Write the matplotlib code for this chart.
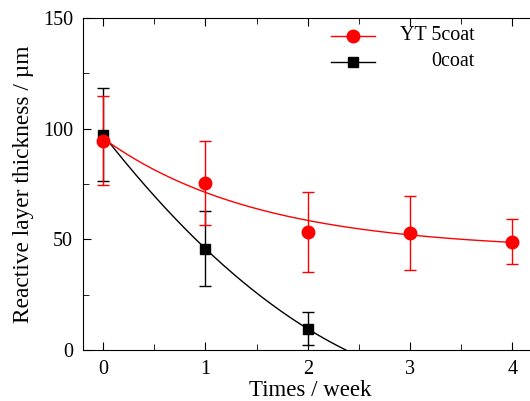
import matplotlib
matplotlib.use('Agg')
import matplotlib.pyplot as plt
from matplotlib.ticker import MultipleLocator
import numpy as np

plt.rcParams['font.family'] = ['Liberation Serif', 'DejaVu Serif']

# measured data
weeks_yt = np.array([0, 1, 2, 3, 4])
thick_yt = np.array([94.6, 75.6, 53.3, 52.9, 49.0])
err_yt = np.array([20.0, 19.0, 18.2, 16.9, 10.3])

weeks_0 = np.array([0, 1, 2])
thick_0 = np.array([97.3, 45.8, 9.6])
err_0 = np.array([21.0, 17.0, 7.4])

labels = ['YT 5coat', '0coat']
xticks = [0, 1, 2, 3, 4]
yticks = [0, 50, 100, 150]


def expdec_fit(x, y, w):
    # y = y0 + A*exp(-x/t), weighted, grid search on t
    best = None
    sw = np.sqrt(w)
    for t in np.linspace(0.3, 10, 2000):
        M = np.column_stack([np.ones_like(x, dtype=float), np.exp(-x / t)])
        coef, _, _, _ = np.linalg.lstsq(M * sw[:, None], y * sw, rcond=None)
        r = np.sum(w * (M @ coef - y) ** 2)
        if best is None or r < best[0]:
            best = (r, t, coef)
    _, t, (y0, A) = best
    return lambda xx: y0 + A * np.exp(-xx / t)


fig = plt.figure(figsize=(5.3, 4.01), dpi=100)
ax = fig.add_axes([0.156, 0.127, 0.859, 0.828])

xs = np.linspace(0, 4, 300)
f_yt = expdec_fit(weeks_yt.astype(float), thick_yt, 1 / err_yt ** 2)
p0 = np.polyfit(weeks_0, thick_0, 2)

ax.plot(xs, np.polyval(p0, xs), color='black', lw=1)
ax.plot(xs, f_yt(xs), color='red', lw=1)

ax.errorbar(weeks_0, thick_0, yerr=err_0, fmt='s', color='black', ms=7,
            elinewidth=1, capsize=4, capthick=1)
ax.errorbar(weeks_yt, thick_yt, yerr=err_yt, fmt='o', color='red', ms=9,
            elinewidth=1, capsize=4, capthick=1)

ax.set_xlim(-0.2, 4.25)
ax.set_ylim(0, 150)
ax.set_xticks(xticks)
ax.set_yticks(yticks)
ax.xaxis.set_minor_locator(MultipleLocator(0.5))
ax.yaxis.set_minor_locator(MultipleLocator(25))
ax.tick_params(which='both', direction='in', top=True, right=True,
               labelsize=14.5, pad=7)
ax.tick_params(which='major', length=6)
ax.tick_params(which='minor', length=4)
ax.set_xlabel('Times / week', fontsize=16.5, labelpad=1)
ax.set_ylabel('Reactive layer thickness / µm', fontsize=16.8, labelpad=6)

# legend with right-aligned labels
for i, (lab, col, mk, ms) in enumerate(zip(labels, ['red', 'black'], ['o', 's'], [9, 7])):
    yy = 0.946 - i * 0.078
    ax.plot([0.546, 0.594, 0.642], [yy] * 3, color=col, lw=1, marker=mk, ms=ms,
            markevery=[1], transform=ax.transAxes, clip_on=False)
    ax.text(0.860, yy, lab, transform=ax.transAxes, ha='right', va='center',
            fontsize=14.5)

fig.savefig('out.png', dpi=100)
